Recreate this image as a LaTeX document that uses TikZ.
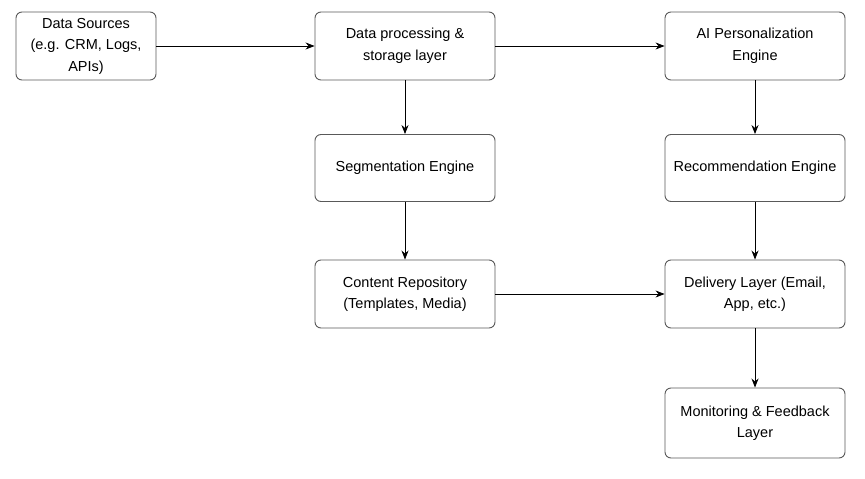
\documentclass[tikz,border=0pt]{standalone}
\usepackage{fontspec}
\setmainfont{Liberation Sans}
\usetikzlibrary{arrows.meta}
\begin{document}
\begin{tikzpicture}[x=1pt,y=-1pt,
  box/.style={draw=black!65, line width=0.9pt, rounded corners=6pt, fill=white,
    minimum width=180pt, minimum height=68pt, align=center, inner sep=1pt,
    font=\fontsize{14.5}{21.5}\selectfont},
  conn/.style={-{Stealth[length=9pt,width=7pt]}, line width=0.8pt, black}]
\useasboundingbox (0,0) rectangle (865,479);
\node[box, minimum width=140pt] (ds) at (86,46) {Data Sources\\(e.g. CRM, Logs,\\APIs)};
\node[box] (dp) at (405,46) {Data processing \&\\storage layer};
\node[box] (ai) at (755,46) {AI Personalization\\Engine};
\node[box, minimum height=67pt] (seg) at (405,168) {Segmentation Engine};
\node[box, minimum height=67pt] (rec) at (755,168) {Recommendation Engine};
\node[box] (cr) at (405,294) {Content Repository\\(Templates, Media)};
\node[box] (del) at (755,294) {Delivery Layer (Email,\\App, etc.)};
\node[box, minimum height=70pt] (mon) at (755,423) {Monitoring \& Feedback\\Layer};
\draw[conn] (ds) -- (dp);
\draw[conn] (dp) -- (ai);
\draw[conn] (dp) -- (seg);
\draw[conn] (ai) -- (rec);
\draw[conn] (seg) -- (cr);
\draw[conn] (rec) -- (del);
\draw[conn] (cr) -- (del);
\draw[conn] (del) -- (mon);
\end{tikzpicture}
\end{document}
